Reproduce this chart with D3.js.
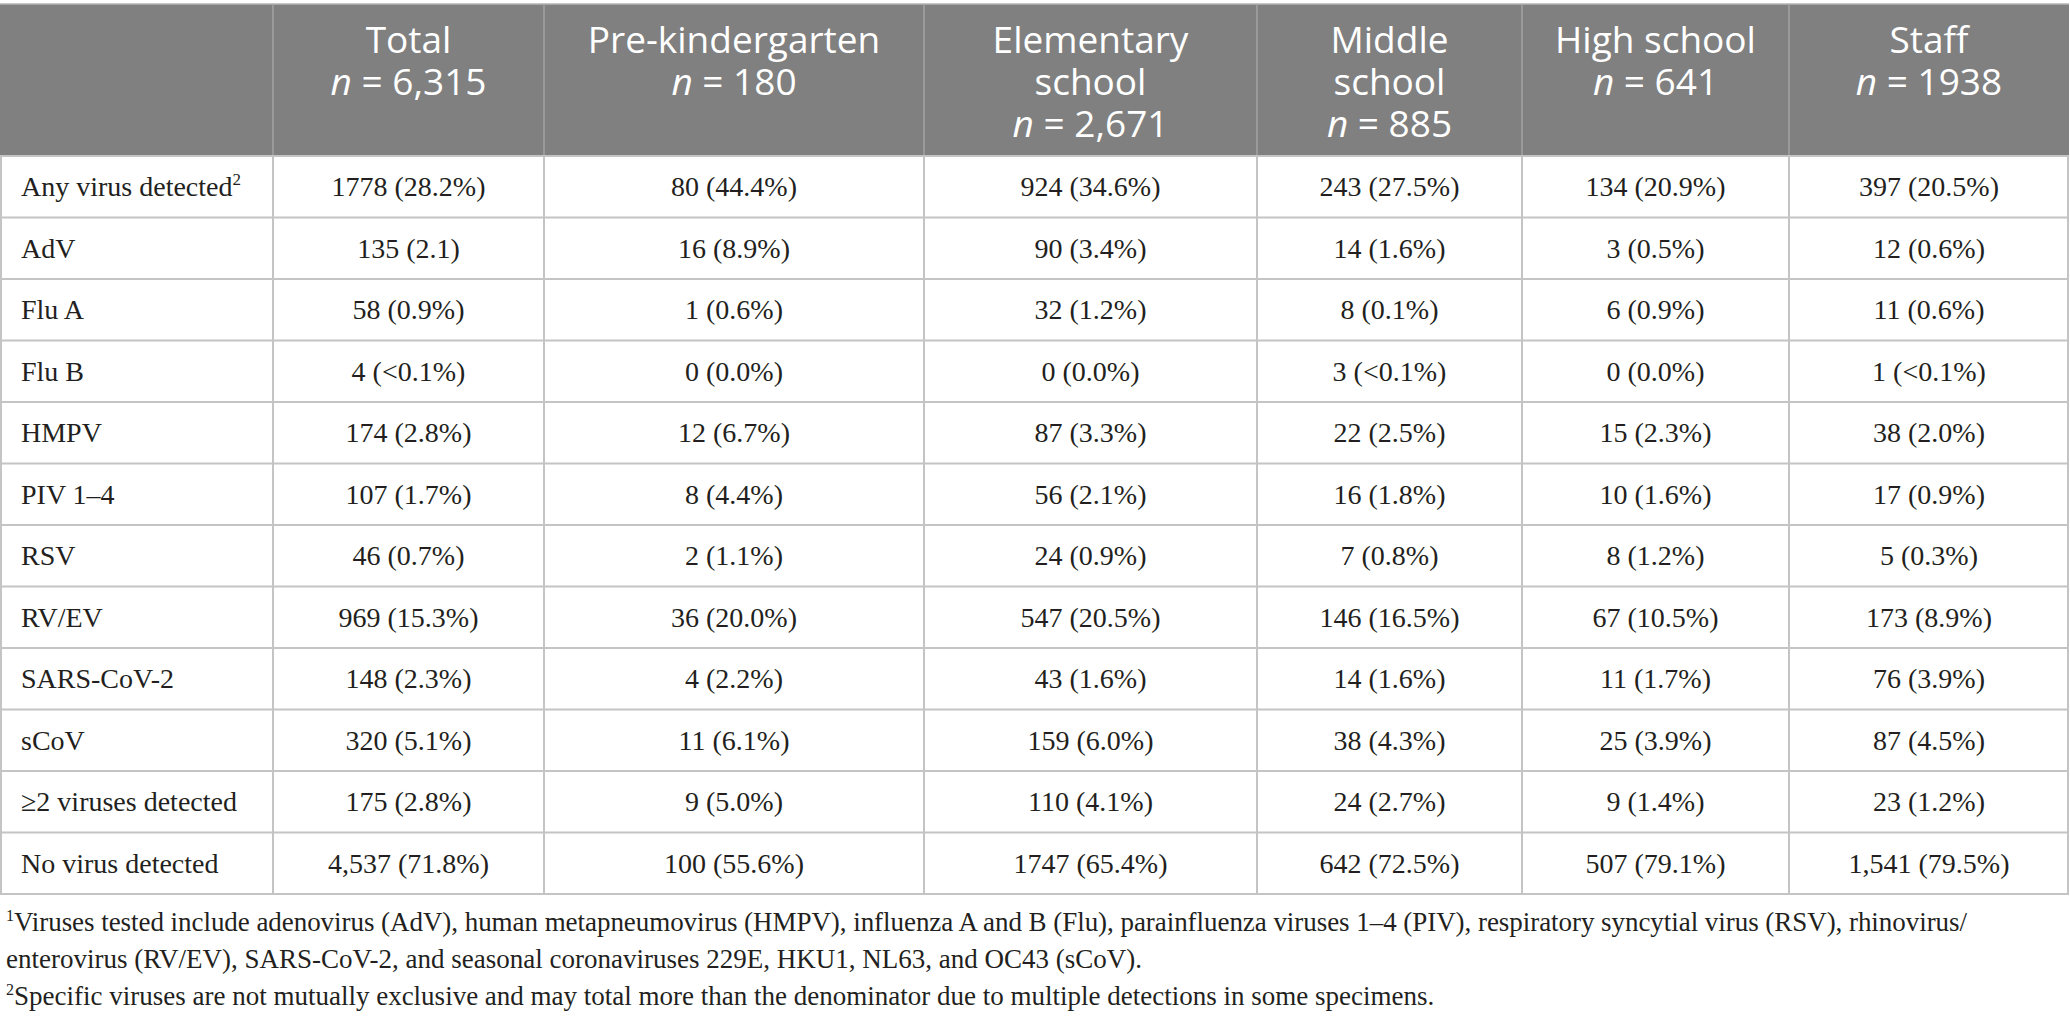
<!DOCTYPE html>
<html><head><meta charset="utf-8">
<script src="https://cdn.jsdelivr.net/npm/d3@7/dist/d3.min.js"></script>
<style>
html,body{margin:0;padding:0;background:#fff;}
svg{display:block;}
</style></head>
<body>
<svg id="chart" width="2070" height="1020"></svg>
<script>
// ---------- DATA ----------
const rowLabels = ["Any virus detected", "AdV", "Flu A", "Flu B", "HMPV", "PIV 1\u20134", "RSV", "RV/EV", "SARS-CoV-2", "sCoV", "\u22652 viruses detected", "No virus detected"];
const rowLabelSup = ["2", "", "", "", "", "", "", "", "", "", "", ""];
const groupTitles = [["Total"], ["Pre-kindergarten"], ["Elementary", "school"], ["Middle", "school"], ["High school"], ["Staff"]];
const groupN = ["6,315", "180", "2,671", "885", "641", "1938"];
const totalVals = ["1778 (28.2%)", "135 (2.1)", "58 (0.9%)", "4 (<0.1%)", "174 (2.8%)", "107 (1.7%)", "46 (0.7%)", "969 (15.3%)", "148 (2.3%)", "320 (5.1%)", "175 (2.8%)", "4,537 (71.8%)"];
const preKVals = ["80 (44.4%)", "16 (8.9%)", "1 (0.6%)", "0 (0.0%)", "12 (6.7%)", "8 (4.4%)", "2 (1.1%)", "36 (20.0%)", "4 (2.2%)", "11 (6.1%)", "9 (5.0%)", "100 (55.6%)"];
const elemVals = ["924 (34.6%)", "90 (3.4%)", "32 (1.2%)", "0 (0.0%)", "87 (3.3%)", "56 (2.1%)", "24 (0.9%)", "547 (20.5%)", "43 (1.6%)", "159 (6.0%)", "110 (4.1%)", "1747 (65.4%)"];
const middleVals = ["243 (27.5%)", "14 (1.6%)", "8 (0.1%)", "3 (<0.1%)", "22 (2.5%)", "16 (1.8%)", "7 (0.8%)", "146 (16.5%)", "14 (1.6%)", "38 (4.3%)", "24 (2.7%)", "642 (72.5%)"];
const highVals = ["134 (20.9%)", "3 (0.5%)", "6 (0.9%)", "0 (0.0%)", "15 (2.3%)", "10 (1.6%)", "8 (1.2%)", "67 (10.5%)", "11 (1.7%)", "25 (3.9%)", "9 (1.4%)", "507 (79.1%)"];
const staffVals = ["397 (20.5%)", "12 (0.6%)", "11 (0.6%)", "1 (<0.1%)", "38 (2.0%)", "17 (0.9%)", "5 (0.3%)", "173 (8.9%)", "76 (3.9%)", "87 (4.5%)", "23 (1.2%)", "1,541 (79.5%)"];
const footnotes = [
  ["1", "Viruses tested include adenovirus (AdV), human metapneumovirus (HMPV), influenza A and B (Flu), parainfluenza viruses 1\u20134 (PIV), respiratory syncytial virus (RSV), rhinovirus/"],
  ["", "enterovirus (RV/EV), SARS-CoV-2, and seasonal coronaviruses 229E, HKU1, NL63, and OC43 (sCoV)."],
  ["2", "Specific viruses are not mutually exclusive and may total more than the denominator due to multiple detections in some specimens."]
];
const footJustify = [true, false, false];

// ---------- LAYOUT ----------
const columnsData = [totalVals, preKVals, elemVals, middleVals, highVals, staffVals];
const colEdges = [0, 273, 544, 924, 1257, 1522, 1789, 2069];
const headerTop = 4, headerBottom = 156, tableBottom = 894;
const headerFill = "#7f807f";
const gridColor = "#c4c4c4";
const textColor = "#231f20";
const sansFont = "'Open Sans', 'Noto Sans', sans-serif";
const serifFont = "'Liberation Serif', 'DejaVu Serif', serif";
const footLeft = 6, footRight = 1967;

const svg = d3.select("#chart");

const colIdx = d3.range(colEdges.length - 1);
const xLeft = d3.scaleOrdinal().domain(colIdx).range(colEdges.slice(0, -1));
const xRight = d3.scaleOrdinal().domain(colIdx).range(colEdges.slice(1));
const xMid = i => (xLeft(i) + xRight(i)) / 2;

const y = d3.scaleBand().domain(rowLabels).range([headerBottom, tableBottom]).padding(0);

// header background
svg.append("rect")
  .attr("x", colEdges[0]).attr("y", headerTop)
  .attr("width", colEdges[colEdges.length - 1] - colEdges[0])
  .attr("height", headerBottom - headerTop)
  .attr("fill", headerFill);

svg.append("line")
  .attr("x1", 0).attr("x2", colEdges[colEdges.length - 1])
  .attr("y1", headerTop).attr("y2", headerTop)
  .attr("stroke", "#b5b5b5").attr("stroke-width", 1.5);

svg.selectAll("line.hsep").data(colEdges.slice(1, -1)).join("line")
  .attr("class", "hsep")
  .attr("x1", d => d).attr("x2", d => d)
  .attr("y1", headerTop).attr("y2", headerBottom)
  .attr("stroke", "#a3a3a3").attr("stroke-width", 1.5);

svg.selectAll("line.vsep").data(colEdges).join("line")
  .attr("class", "vsep")
  .attr("x1", d => Math.min(Math.max(d, 1), 2068)).attr("x2", d => Math.min(Math.max(d, 1), 2068))
  .attr("y1", headerBottom).attr("y2", tableBottom)
  .attr("stroke", gridColor).attr("stroke-width", 2);

const hLines = rowLabels.map(r => y(r)).concat([tableBottom]);
svg.selectAll("line.hline").data(hLines).join("line")
  .attr("class", "hline")
  .attr("x1", 0).attr("x2", colEdges[colEdges.length - 1])
  .attr("y1", d => d).attr("y2", d => d)
  .attr("stroke", gridColor).attr("stroke-width", 2);

// header text
const headerBaselines = [53, 95, 137];
const hg = svg.append("g").attr("font-family", sansFont).attr("font-size", 37).attr("fill", "#ffffff").attr("text-anchor", "middle");
groupTitles.forEach((lines, i) => {
  const ci = i + 1;
  lines.forEach((ln, j) => {
    hg.append("text").attr("x", xMid(ci)).attr("y", headerBaselines[j]).text(ln);
  });
  const t = hg.append("text").attr("x", xMid(ci)).attr("y", headerBaselines[lines.length]);
  t.append("tspan").attr("font-style", "italic").text("n");
  t.append("tspan").text(" = " + groupN[i]);
});

// row labels
const bodyFont = 28;
const rg = svg.append("g").attr("font-family", serifFont).attr("font-size", bodyFont).attr("fill", textColor);
rowLabels.forEach((lab, r) => {
  const t = rg.append("text").attr("x", 21).attr("y", y(lab) + y.bandwidth() / 2 + 9.5);
  t.append("tspan").text(lab);
  if (rowLabelSup[r]) t.append("tspan").attr("font-size", 17).attr("dy", -11).text(rowLabelSup[r]);
});

// cells
columnsData.forEach((vals, i) => {
  const ci = i + 1;
  rg.selectAll(null).data(vals).join("text")
    .attr("x", xMid(ci))
    .attr("y", (d, r) => y(rowLabels[r]) + y.bandwidth() / 2 + 9.5)
    .attr("text-anchor", "middle")
    .text(d => d);
});

// footnotes
const fg = svg.append("g").attr("font-family", serifFont).attr("font-size", 27).attr("fill", textColor);
const footBase = [931, 968, 1005];
footnotes.forEach((f, k) => {
  const t = fg.append("text").attr("x", footLeft).attr("y", footBase[k]);
  let dyBack = 0;
  if (f[0]) {
    t.append("tspan").attr("font-size", 16).attr("dy", -10).text(f[0]);
    dyBack = 10;
  }
  const body = t.append("tspan").attr("dy", dyBack).text(f[1]);
  if (footJustify[k]) {
    t.attr("textLength", footRight - footLeft).attr("lengthAdjust", "spacing");
  }
});
</script>
</body></html>
